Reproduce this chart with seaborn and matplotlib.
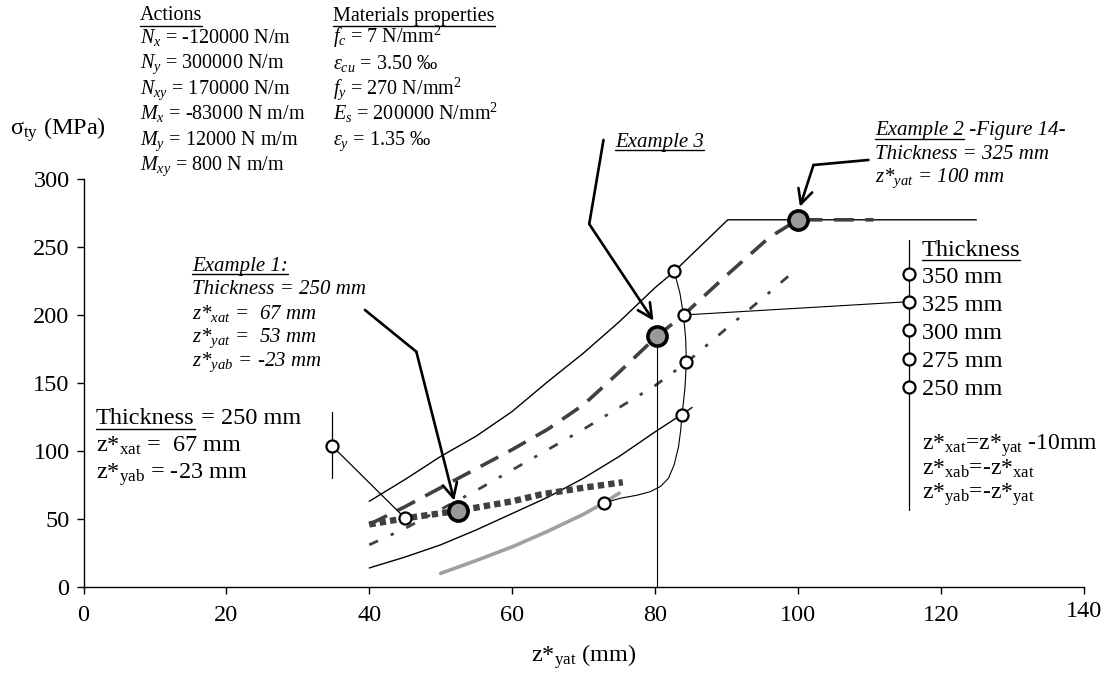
import matplotlib
matplotlib.use("Agg")
import matplotlib.pyplot as plt
import matplotlib.transforms as mtransforms
import seaborn as sns
import pandas as pd
from matplotlib.lines import Line2D

# ---------------- data ----------------
# thickness 350 mm (solid black, upper)
x_350 = [40, 45, 50, 55, 60, 65, 70, 75, 80, 82.7, 90.2, 125]
y_350 = [63, 79, 96, 111, 129, 151, 172, 195, 220, 232, 270, 270]
# thickness 325 mm (long dashes)
x_325 = [40, 45, 50, 55, 60, 65, 70, 75, 80.3, 84, 90, 96, 100, 110.6]
y_325 = [46, 59, 73, 87, 101, 116, 134, 158, 184.5, 200, 229, 257, 270, 270]
# thickness 300 mm (dash-dot)
x_300 = [40, 45, 50, 55, 60, 65, 70, 75, 80, 84.4, 90, 95, 99]
y_300 = [31, 43, 57, 71, 86, 101, 116, 132, 148, 165, 190, 212, 230]
# thickness 275 mm (solid black, lower)
x_275 = [40, 45, 50, 55, 60, 65, 70, 75, 80, 83.8, 85.2]
y_275 = [14, 22, 31, 42, 54, 66, 80, 96, 114, 127, 132]
# example 1 curve (thick square dots)
x_ex1 = [40, 45, 52.4, 60, 64, 70, 75.5]
y_ex1 = [46, 50.5, 56, 63, 68, 73, 77]
# thickness 250 mm (light grey)
x_250 = [50, 55, 60, 65, 70, 72.9, 75]
y_250 = [10, 19.5, 29.5, 41, 53.5, 62, 69]
# locus through the thickness points
x_locus = [72.9, 75.1, 77.5, 79.3, 80.8, 81.9, 82.7, 83.3, 83.6, 83.8, 84.2, 84.4,
           84.3, 84.0, 83.5, 82.7]
y_locus = [61.8, 65.2, 67.5, 70, 74, 80, 90, 103, 115, 126.5, 146, 165.4,
           183, 200, 216, 232]

# open markers on the curves
open_x = [72.9, 83.8, 84.4, 84.0, 82.7, 45.0, 34.8]
open_y = [61.8, 126.5, 165.4, 200, 232, 50.7, 103.7]
# example points (grey filled)
ex_x = [52.4, 80.3, 100]
ex_y = [56, 184.5, 270]
# legend for thickness
leg_labels = ["350 mm", "325 mm", "300 mm", "275 mm", "250 mm"]
leg_x = 115.6
leg_y = [230, 209.8, 189, 168, 147.3]

x_ticks = [0, 20, 40, 60, 80, 100, 120, 140]
y_ticks = [0, 50, 100, 150, 200, 250, 300]

# ---------------- style ----------------
sns.set_theme(style="ticks")
plt.rcParams["font.family"] = ["Liberation Serif", "DejaVu Serif"]
plt.rcParams["mathtext.fontset"] = "custom"
plt.rcParams["mathtext.rm"] = "Liberation Serif"
plt.rcParams["mathtext.it"] = "Liberation Serif:italic"
plt.rcParams["mathtext.bf"] = "Liberation Serif:bold"

W, H = 1108, 674
fig = plt.figure(figsize=(W / 100, H / 100), dpi=100)
fig.patch.set_facecolor("white")
ax = fig.add_axes([83.5 / W, 87 / H, 1000 / W, 408 / H])
ax.set_facecolor("white")

DG = "#404040"

def line(x, y, **kw):
    sns.lineplot(x=x, y=y, ax=ax, sort=False, estimator=None, legend=False, **kw)

line(x_350, y_350, color="black", lw=1.0)
line(x_275, y_275, color="black", lw=1.0)
line(x_325, y_325, color=DG, lw=2.6, linestyle=(0, (5.5, 3.2)))
line(x_300, y_300, color=DG, lw=2.0, linestyle=(0, (3.5, 5, 1.2, 5)))
line(x_ex1, y_ex1, color=DG, lw=4.6, linestyle=(0, (1, 0.65)))
line(x_250, y_250, color="#a0a0a0", lw=2.6)
line(x_locus, y_locus, color="black", lw=0.8)

# helper lines
ax.plot([80.3, 80.3], [184.5, 0], color="black", lw=0.8, zorder=2)
ax.plot([84.0, leg_x], [200, leg_y[1]], color="black", lw=0.8, zorder=2)
ax.plot([leg_x, leg_x], [255, 56.6], color="black", lw=0.9, zorder=2, clip_on=False)
ax.plot([34.8, 34.8], [80, 128.6], color="black", lw=0.9, zorder=2)
ax.plot([34.8, 45.0], [103.7, 50.7], color="black", lw=0.9, zorder=2)

# markers
mk = pd.DataFrame({"x": open_x + [leg_x] * len(leg_y), "y": open_y + leg_y})
sns.scatterplot(data=mk, x="x", y="y", ax=ax, s=75, facecolor="white",
                edgecolor="black", linewidth=1.6, zorder=5, clip_on=False, legend=False)
sns.scatterplot(x=ex_x, y=ex_y, ax=ax, s=190, color="#999999",
                edgecolor="black", linewidth=2.6, zorder=6, clip_on=False, legend=False)

# arrows
def arrow(pts):
    xs = [p[0] for p in pts]
    ys = [p[1] for p in pts]
    ax.plot(xs[:-1], ys[:-1], color="black", lw=1.9, clip_on=False, zorder=4,
            solid_joinstyle="miter")
    ax.annotate("", xy=pts[-1], xytext=pts[-2], annotation_clip=False,
                arrowprops=dict(arrowstyle="->", lw=1.9, color="black",
                                mutation_scale=26, shrinkA=0, shrinkB=0), zorder=4)

arrow([(39.4, 203.7), (46.6, 173.0), (51.9, 63.5)])
arrow([(72.8, 328.7), (70.8, 266.9), (79.8, 195.8)])
arrow([(109.9, 314.0), (102.2, 310.3), (100.3, 279.6)])

# axes
ax.set_xlim(0, 140)
ax.set_ylim(0, 300)
ax.set_xticks(x_ticks)
ax.set_yticks(y_ticks)
sns.despine(ax=ax)
for s in ("left", "bottom"):
    ax.spines[s].set_color("black")
    ax.spines[s].set_linewidth(1.0)
ax.tick_params(axis="both", direction="out", length=5, width=1.0, color="black",
               labelsize=17.5, labelcolor="black")
ax.tick_params(axis="x", pad=8)
ax.tick_params(axis="y", pad=5)
ax.set_xlabel("")
ax.set_ylabel("")
# the last x label sits slightly higher in the reference
lab = ax.get_xticklabels()[-1]
lab.set_transform(lab.get_transform() +
                  mtransforms.ScaledTranslation(0, 3 / 72, fig.dpi_scale_trans))

# ---------------- texts ----------------
def ptxt(x, base, s, size=14.5, **kw):
    return fig.text(x / W, 1 - base / H, s, va="baseline", ha="left",
                    fontsize=size, color="black", **kw)

fig.text(583.5 / W, 1 - 662 / H, "z*$_{\\mathrm{yat}}$ (mm)", ha="center",
         va="baseline", fontsize=17.5, color="black")
ptxt(10, 135, "σ$_{\\mathrm{ty}}$ (MPa)", size=17.5)

underline = []  # (text, y_px)

t = ptxt(140, 20.5, "Actions"); underline.append((t, 25.5))
rows_a = ["$N_x$ = -120000 N/m", "$N_y$ = 300000 N/m", "$N_{xy}$ = 170000 N/m",
          "$M_x$ = -83000 N m/m", "$M_y$ = 12000 N m/m", "$M_{xy}$ = 800 N m/m"]
for i, s in enumerate(rows_a):
    ptxt(140, 43 + 25.5 * i, s)
t = ptxt(333, 20.5, "Materials properties"); underline.append((t, 25.5))
rows_m = ["$f_c$ = 7 N/mm$^{\\mathrm{2}}$", "$\\varepsilon_{cu}$ = 3.50 ‰",
          "$f_y$ = 270 N/mm$^{\\mathrm{2}}$", "$E_s$ = 200000 N/mm$^{\\mathrm{2}}$",
          "$\\varepsilon_y$ = 1.35 ‰"]
for i, s in enumerate(rows_m):
    ptxt(333, 43 + 25.5 * i, s)

# Example 1
t = ptxt(192, 270.5, "Example 1:", size=15, style="italic"); underline.append((t, 274))
ex1_rows = ["Thickness = 250 mm", "z*$_{xat}$ =  67 mm", "z*$_{yat}$ =  53 mm",
            "z*$_{yab}$ = -23 mm"]
for i, s in enumerate(ex1_rows):
    ptxt(192, 294.5 + 24 * i, s, size=15, style="italic")

# Example 3
t = ptxt(615, 146.5, "Example 3", size=15, style="italic"); underline.append((t, 150))

# Example 2
t = ptxt(875, 135.5, "Example 2", size=15, style="italic"); underline.append((t, 139))
ex2_first = t
ptxt(875, 159.3, "Thickness = 325 mm", size=15, style="italic")
ptxt(875, 182, "z*$_{yat}$ = 100 mm", size=15, style="italic")

# left block
t = ptxt(96, 424.5, "Thickness", size=17.5); underline.append((t, 429))
left_first = t
ptxt(96, 452, "z*$_{\\mathrm{xat}}$ =  67 mm", size=17.5)
ptxt(96, 479, "z*$_{\\mathrm{yab}}$ = -23 mm", size=17.5)

# legend
t = ptxt(921.7, 256, "Thickness", size=17.5); underline.append((t, 260))
for lab_s, yb in zip(leg_labels, [283.3, 311.3, 339.3, 367.3, 395.3]):
    ptxt(921.7, yb, lab_s, size=17.5)
ptxt(921.7, 450, "z*$_{\\mathrm{xat}}$=z*$_{\\mathrm{yat}}$ -10mm", size=17)
ptxt(921.7, 475, "z*$_{\\mathrm{xab}}$=-z*$_{\\mathrm{xat}}$", size=17)
ptxt(921.7, 499, "z*$_{\\mathrm{yab}}$=-z*$_{\\mathrm{yat}}$", size=17)

fig.canvas.draw()
r = fig.canvas.get_renderer()
# continuation texts after underlined parts
bb = ex2_first.get_window_extent(r)
ptxt(bb.x1, 135.5, " -Figure 14-", size=15, style="italic")
bb = left_first.get_window_extent(r)
ptxt(bb.x1, 424.5, " = 250 mm", size=17.5)

for tx, yu in underline:
    bb = tx.get_window_extent(r)
    fig.add_artist(Line2D([bb.x0 / W, bb.x1 / W], [1 - yu / H, 1 - yu / H],
                          transform=fig.transFigure, color="black", lw=1.0))

fig.savefig("out.png", dpi=100, facecolor="white")
